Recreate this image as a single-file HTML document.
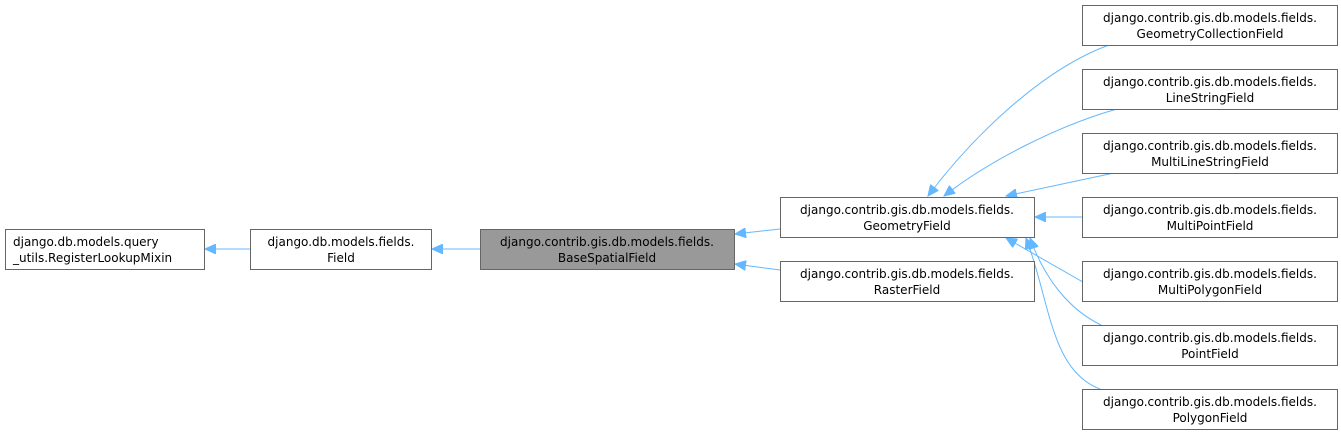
<!DOCTYPE html>
<html><head><meta charset="utf-8"><style>
body{margin:0;background:#fff;}
svg{display:block;}
text{font-family:"DejaVu Sans","Liberation Sans",sans-serif;font-size:12px;fill:#000;}
</style></head><body>
<svg width="1341" height="435" viewBox="0 0 1341 435" xmlns="http://www.w3.org/2000/svg">
<defs>
<marker id="a" markerWidth="12" markerHeight="10" refX="11" refY="5" orient="auto" markerUnits="userSpaceOnUse">
<path d="M0,0 L11,5 L0,10 Z" fill="#63b8ff" stroke="#63b8ff"/>
</marker>
</defs>
<g fill="none" stroke="#63b8ff" stroke-width="1" marker-end="url(#a)">
<path d="M250,249 L205,249"/>
<path d="M480,249 L432,249"/>
<path d="M780,229 L735,234"/>
<path d="M780,270 L735,264"/>
<path d="M1082,217 L1035,217"/>
<path d="M1114,173 L1006,196"/>
<path d="M1117,109 C1060,125 990,160 944,196"/>
<path d="M1109,45 C1040,70 970,140 928,196"/>
<path d="M1116,301 L1006,238"/>
<path d="M1101,325 C1070,310 1045,280 1030,238"/>
<path d="M1100,389 C1050,370 1050,300 1026,238"/>
</g>
<g stroke="#666" stroke-width="1">
<rect x="5.5" y="229.5" width="199" height="40" fill="#fff"/>
<rect x="250.5" y="229.5" width="181" height="40" fill="#fff"/>
<rect x="480.5" y="229.5" width="254" height="40" fill="#999"/>
<rect x="780.5" y="197.5" width="254" height="40" fill="#fff"/>
<rect x="780.5" y="261.5" width="254" height="40" fill="#fff"/>
<rect x="1082.5" y="5.5" width="255" height="40" fill="#fff"/>
<rect x="1082.5" y="69.5" width="255" height="40" fill="#fff"/>
<rect x="1082.5" y="133.5" width="255" height="40" fill="#fff"/>
<rect x="1082.5" y="197.5" width="255" height="40" fill="#fff"/>
<rect x="1082.5" y="261.5" width="255" height="40" fill="#fff"/>
<rect x="1082.5" y="325.5" width="255" height="40" fill="#fff"/>
<rect x="1082.5" y="389.5" width="255" height="40" fill="#fff"/>
</g>
<text x="13" y="246">django.db.models.query</text>
<text x="13" y="262">_utils.RegisterLookupMixin</text>
<g text-anchor="middle">
<text x="341" y="246">django.db.models.fields.</text><text x="341" y="262">Field</text>
<text x="607" y="246">django.contrib.gis.db.models.fields.</text><text x="607" y="262">BaseSpatialField</text>
<text x="907" y="214">django.contrib.gis.db.models.fields.</text><text x="907" y="230">GeometryField</text>
<text x="907" y="278">django.contrib.gis.db.models.fields.</text><text x="907" y="294">RasterField</text>
<text x="1210" y="22">django.contrib.gis.db.models.fields.</text><text x="1210" y="38">GeometryCollectionField</text>
<text x="1210" y="86">django.contrib.gis.db.models.fields.</text><text x="1210" y="102">LineStringField</text>
<text x="1210" y="150">django.contrib.gis.db.models.fields.</text><text x="1210" y="166">MultiLineStringField</text>
<text x="1210" y="214">django.contrib.gis.db.models.fields.</text><text x="1210" y="230">MultiPointField</text>
<text x="1210" y="278">django.contrib.gis.db.models.fields.</text><text x="1210" y="294">MultiPolygonField</text>
<text x="1210" y="342">django.contrib.gis.db.models.fields.</text><text x="1210" y="358">PointField</text>
<text x="1210" y="406">django.contrib.gis.db.models.fields.</text><text x="1210" y="422">PolygonField</text>
</g>
</svg>
</body></html>
